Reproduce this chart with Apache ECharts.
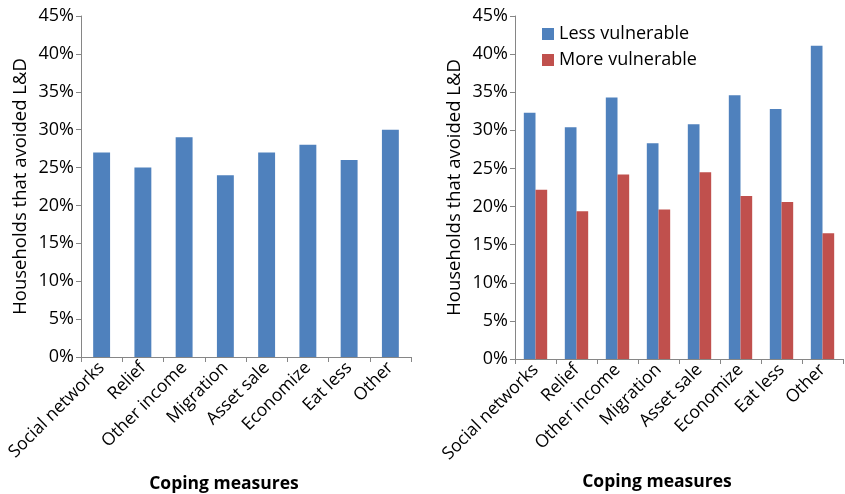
<!DOCTYPE html>
<html>
<head>
<meta charset="utf-8">
<script src="https://cdn.jsdelivr.net/npm/echarts@6/dist/echarts.min.js"></script>
<style>
  html, body { margin: 0; padding: 0; background: #fff; }
  #chart { width: 845px; height: 494px; }
</style>
</head>
<body>
<div id="chart"></div>
<script>
// Coping measures used by households that avoided loss & damage
const categories = ['Social networks', 'Relief', 'Other income', 'Migration', 'Asset sale', 'Economize', 'Eat less', 'Other'];
// All households (%)
const allHouseholds = [27, 25, 29, 24, 27, 28, 26, 30];
// Split by vulnerability (%)
const lessVulnerable = [32.3, 30.4, 34.3, 28.3, 30.8, 34.6, 32.8, 41.1];
const moreVulnerable = [22.2, 19.4, 24.2, 19.6, 24.5, 21.4, 20.6, 16.5];
const yTicks = { min: 0, max: 45, interval: 5 };

const FONT = '"Open Sans", Lato, sans-serif';
const axisGrey = '#868686';

function yAxis(gridIndex) {
  return {
    type: 'value', gridIndex,
    min: yTicks.min, max: yTicks.max, interval: yTicks.interval,
    name: 'Households that avoided L&D',
    nameLocation: 'middle', nameRotate: 90, nameGap: 51,
    nameTextStyle: { fontFamily: FONT, fontSize: 18.5, color: '#000' },
    axisLine: { show: true, lineStyle: { color: axisGrey, width: 1 } },
    axisTick: { show: true, length: 5, lineStyle: { color: axisGrey } },
    axisLabel: { formatter: '{value}%', fontFamily: FONT, fontSize: 18, color: '#000', margin: 7 },
    splitLine: { show: false }
  };
}
function xAxis(gridIndex, nameGap) {
  return {
    type: 'category', gridIndex, data: categories,
    name: 'Coping measures', nameLocation: 'middle', nameGap,
    nameTextStyle: { fontFamily: FONT, fontSize: 17.5, fontWeight: 'bold', color: '#000', padding: [0, 44, 0, 0] },
    axisLine: { lineStyle: { color: axisGrey, width: 1 } },
    axisTick: { show: true, length: 5, lineStyle: { color: axisGrey } },
    axisLabel: { rotate: 45, interval: 0, fontFamily: FONT, fontSize: 17.5, color: '#000', margin: 8 }
  };
}

const chart = echarts.init(document.getElementById('chart'), null, { renderer: 'canvas' });
chart.setOption({
  animation: false,
  backgroundColor: '#fff',
  grid: [
    { left: 81, right: 434, top: 16, bottom: 137, containLabel: false, outerBoundsMode: 'none' },
    { left: 515, right: 2, top: 16, bottom: 135, containLabel: false, outerBoundsMode: 'none' }
  ],
  xAxis: [xAxis(0, 118), xAxis(1, 114)],
  yAxis: [yAxis(0), yAxis(1)],
  legend: {
    orient: 'vertical', left: 537, top: 20,
    itemWidth: 12, itemHeight: 12, itemGap: 8,
    icon: 'rect',
    textStyle: { fontFamily: FONT, fontSize: 18, color: '#000' },
    data: ['Less vulnerable', 'More vulnerable']
  },
  series: [
    { name: 'All households', type: 'bar', xAxisIndex: 0, yAxisIndex: 0,
      data: allHouseholds, barWidth: '41%', itemStyle: { color: '#4F81BD' } },
    { name: 'Less vulnerable', type: 'bar', xAxisIndex: 1, yAxisIndex: 1,
      data: lessVulnerable, barGap: '0%', barCategoryGap: '43%', itemStyle: { color: '#4F81BD' } },
    { name: 'More vulnerable', type: 'bar', xAxisIndex: 1, yAxisIndex: 1,
      data: moreVulnerable, barGap: '0%', barCategoryGap: '43%', itemStyle: { color: '#C0504D' } }
  ]
});
</script>
</body>
</html>
